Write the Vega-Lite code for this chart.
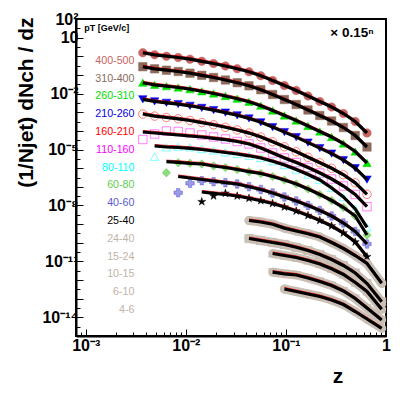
{
"$schema": "https://vega.github.io/schema/vega-lite/v6.json",
"width": 310, "height": 317,
"autosize": {"type": "none"},
"padding": {"left": 76, "top": 19, "right": 15, "bottom": 58},
"config": {"font": "Liberation Sans", "view": {"stroke": "black", "strokeWidth": 2}},
"data": {"values": [
{"s":"400-500","z":0.003719,"v":1.558,"f":1.558},
{"s":"400-500","z":0.00488,"v":1.202,"f":1.202},
{"s":"400-500","z":0.006402,"v":1.012,"f":1.012},
{"s":"400-500","z":0.008395,"v":0.8615,"f":0.8615},
{"s":"400-500","z":0.011013,"v":0.6985,"f":0.6985},
{"s":"400-500","z":0.014445,"v":0.5389,"f":0.5389},
{"s":"400-500","z":0.01895,"v":0.4109,"f":0.4109},
{"s":"400-500","z":0.024869,"v":0.3016,"f":0.3016},
{"s":"400-500","z":0.032618,"v":0.2161,"f":0.2161},
{"s":"400-500","z":0.042796,"v":0.1474,"f":0.1474},
{"s":"400-500","z":0.056143,"v":0.09106,"f":0.09106},
{"s":"400-500","z":0.073638,"v":0.05033,"f":0.05033},
{"s":"400-500","z":0.096605,"v":0.02715,"f":0.02715},
{"s":"400-500","z":0.12672,"v":0.01464,"f":0.01464},
{"s":"400-500","z":0.16624,"v":0.007425,"f":0.007425},
{"s":"400-500","z":0.21807,"v":0.003764,"f":0.003764},
{"s":"400-500","z":0.28609,"v":0.001909,"f":0.001909},
{"s":"400-500","z":0.37531,"v":0.0008553,"f":0.0008553},
{"s":"400-500","z":0.49229,"v":0.0003184,"f":0.0003184},
{"s":"400-500","z":0.6458,"v":0.000077,"f":0.000077},
{"s":"310-400","z":0.003719,"v":0.2765,"f":0.2765},
{"s":"310-400","z":0.00488,"v":0.2134,"f":0.2134},
{"s":"310-400","z":0.006402,"v":0.1796,"f":0.1796},
{"s":"310-400","z":0.008395,"v":0.1529,"f":0.1529},
{"s":"310-400","z":0.011013,"v":0.124,"f":0.124},
{"s":"310-400","z":0.014445,"v":0.09566,"f":0.09566},
{"s":"310-400","z":0.01895,"v":0.07293,"f":0.07293},
{"s":"310-400","z":0.024869,"v":0.05353,"f":0.05353},
{"s":"310-400","z":0.032618,"v":0.03836,"f":0.03836},
{"s":"310-400","z":0.042796,"v":0.02616,"f":0.02616},
{"s":"310-400","z":0.056143,"v":0.01616,"f":0.01616},
{"s":"310-400","z":0.073638,"v":0.008934,"f":0.008934},
{"s":"310-400","z":0.096605,"v":0.004819,"f":0.004819},
{"s":"310-400","z":0.12672,"v":0.002599,"f":0.002599},
{"s":"310-400","z":0.16624,"v":0.001318,"f":0.001318},
{"s":"310-400","z":0.21807,"v":0.0006681,"f":0.0006681},
{"s":"310-400","z":0.28609,"v":0.0003388,"f":0.0003388},
{"s":"310-400","z":0.37531,"v":0.0001518,"f":0.0001518},
{"s":"310-400","z":0.49229,"v":0.00005652,"f":0.00005652},
{"s":"310-400","z":0.6458,"v":0.00001367,"f":0.00001367},
{"s":"260-310","z":0.003719,"v":0.03836,"f":0.03836},
{"s":"260-310","z":0.00488,"v":0.02959,"f":0.02959},
{"s":"260-310","z":0.006402,"v":0.02492,"f":0.02492},
{"s":"260-310","z":0.008395,"v":0.02121,"f":0.02121},
{"s":"260-310","z":0.011013,"v":0.0172,"f":0.0172},
{"s":"260-310","z":0.014445,"v":0.01327,"f":0.01327},
{"s":"260-310","z":0.01895,"v":0.01012,"f":0.01012},
{"s":"260-310","z":0.024869,"v":0.007426,"f":0.007426},
{"s":"260-310","z":0.032618,"v":0.005321,"f":0.005321},
{"s":"260-310","z":0.042796,"v":0.003629,"f":0.003629},
{"s":"260-310","z":0.056143,"v":0.002242,"f":0.002242},
{"s":"260-310","z":0.073638,"v":0.001239,"f":0.001239},
{"s":"260-310","z":0.096605,"v":0.0006685,"f":0.0006685},
{"s":"260-310","z":0.12672,"v":0.0003605,"f":0.0003605},
{"s":"260-310","z":0.16624,"v":0.0001828,"f":0.0001828},
{"s":"260-310","z":0.21807,"v":0.00009267,"f":0.00009267},
{"s":"260-310","z":0.28609,"v":0.000047,"f":0.000047},
{"s":"260-310","z":0.37531,"v":0.00002106,"f":0.00002106},
{"s":"260-310","z":0.49229,"v":0.000007839,"f":0.000007839},
{"s":"260-310","z":0.6458,"v":0.000001896,"f":0.000001896},
{"s":"210-260","z":0.003719,"v":0.004938,"f":0.004938},
{"s":"210-260","z":0.00488,"v":0.00381,"f":0.00381},
{"s":"210-260","z":0.006402,"v":0.003208,"f":0.003208},
{"s":"210-260","z":0.008395,"v":0.002731,"f":0.002731},
{"s":"210-260","z":0.011013,"v":0.002214,"f":0.002214},
{"s":"210-260","z":0.014445,"v":0.001708,"f":0.001708},
{"s":"210-260","z":0.01895,"v":0.001302,"f":0.001302},
{"s":"210-260","z":0.024869,"v":0.000956,"f":0.000956},
{"s":"210-260","z":0.032618,"v":0.000685,"f":0.000685},
{"s":"210-260","z":0.042796,"v":0.0004672,"f":0.0004672},
{"s":"210-260","z":0.056143,"v":0.0002886,"f":0.0002886},
{"s":"210-260","z":0.073638,"v":0.0001595,"f":0.0001595},
{"s":"210-260","z":0.096605,"v":0.00008605,"f":0.00008605},
{"s":"210-260","z":0.12672,"v":0.0000464,"f":0.0000464},
{"s":"210-260","z":0.16624,"v":0.00002353,"f":0.00002353},
{"s":"210-260","z":0.21807,"v":0.00001193,"f":0.00001193},
{"s":"210-260","z":0.28609,"v":0.000006051,"f":0.000006051},
{"s":"210-260","z":0.37531,"v":0.000002711,"f":0.000002711},
{"s":"210-260","z":0.49229,"v":0.000001009,"f":0.000001009},
{"s":"210-260","z":0.6458,"v":2.441e-7,"f":2.441e-7},
{"s":"160-210","z":0.003719,"v":0.0008041,"f":0.0008041},
{"s":"160-210","z":0.00488,"v":0.0006203,"f":0.0006203},
{"s":"160-210","z":0.006402,"v":0.0005223,"f":0.0005223},
{"s":"160-210","z":0.008395,"v":0.0004446,"f":0.0004446},
{"s":"160-210","z":0.011013,"v":0.0003605,"f":0.0003605},
{"s":"160-210","z":0.014445,"v":0.0002781,"f":0.0002781},
{"s":"160-210","z":0.01895,"v":0.0002121,"f":0.0002121},
{"s":"160-210","z":0.024869,"v":0.0001557,"f":0.0001557},
{"s":"160-210","z":0.032618,"v":0.0001115,"f":0.0001115},
{"s":"160-210","z":0.042796,"v":0.00007607,"f":0.00007607},
{"s":"160-210","z":0.056143,"v":0.000047,"f":0.000047},
{"s":"160-210","z":0.073638,"v":0.00002597,"f":0.00002597},
{"s":"160-210","z":0.096605,"v":0.00001401,"f":0.00001401},
{"s":"160-210","z":0.12672,"v":0.000007556,"f":0.000007556},
{"s":"160-210","z":0.16624,"v":0.000003832,"f":0.000003832},
{"s":"160-210","z":0.21807,"v":0.000001943,"f":0.000001943},
{"s":"160-210","z":0.28609,"v":9.852e-7,"f":9.852e-7},
{"s":"160-210","z":0.37531,"v":4.414e-7,"f":4.414e-7},
{"s":"160-210","z":0.49229,"v":1.643e-7,"f":1.643e-7},
{"s":"160-210","z":0.6458,"v":3.974e-8,"f":3.974e-8},
{"s":"110-160","z":0.003719,"v":3.450e-5,"f":8.710e-5},
{"s":"110-160","z":0.00488,"v":6.805e-5,"f":7.698e-5},
{"s":"110-160","z":0.006402,"v":9.856e-5,"f":6.805e-5},
{"s":"110-160","z":0.008395,"v":9.264e-5,"f":6.016e-5},
{"s":"110-160","z":0.011013,"v":7.698e-5,"f":5.315e-5},
{"s":"110-160","z":0.014445,"v":6.016e-5,"f":4.698e-5},
{"s":"110-160","z":0.01895,"v":4.698e-5,"f":4.001e-5},
{"s":"110-160","z":0.024869,"v":3.670e-5,"f":3.366e-5},
{"s":"110-160","z":0.032618,"v":2.696e-5,"f":2.696e-5},
{"s":"110-160","z":0.042796,"v":1.979e-5,"f":1.979e-5},
{"s":"110-160","z":0.056143,"v":1.208e-5,"f":1.208e-5},
{"s":"110-160","z":0.073638,"v":6.513e-6,"f":6.513e-6},
{"s":"110-160","z":0.096605,"v":3.513e-6,"f":3.513e-6},
{"s":"110-160","z":0.12672,"v":2.016e-6,"f":2.016e-6},
{"s":"110-160","z":0.16624,"v":1.087e-6,"f":1.087e-6},
{"s":"110-160","z":0.21807,"v":5.512e-7,"f":5.512e-7},
{"s":"110-160","z":0.28609,"v":2.628e-7,"f":2.628e-7},
{"s":"110-160","z":0.37531,"v":1.107e-7,"f":1.107e-7},
{"s":"110-160","z":0.49229,"v":3.876e-8,"f":3.876e-8},
{"s":"110-160","z":0.6458,"v":8.590e-9,"f":8.590e-9},
{"s":"80-110","z":0.00488,"v":4.125e-6,"f":1.546e-5},
{"s":"80-110","z":0.006402,"v":1.317e-5,"f":1.366e-5},
{"s":"80-110","z":0.008395,"v":1.401e-5,"f":1.285e-5},
{"s":"80-110","z":0.011013,"v":1.317e-5,"f":1.164e-5},
{"s":"80-110","z":0.014445,"v":1.067e-5,"f":1.003e-5},
{"s":"80-110","z":0.01895,"v":8.868e-6,"f":8.340e-6},
{"s":"80-110","z":0.024869,"v":7.102e-6,"f":6.928e-6},
{"s":"80-110","z":0.032618,"v":5.758e-6,"f":5.758e-6},
{"s":"80-110","z":0.042796,"v":4.610e-6,"f":4.610e-6},
{"s":"80-110","z":0.056143,"v":3.513e-6,"f":3.513e-6},
{"s":"80-110","z":0.073638,"v":2.337e-6,"f":2.337e-6},
{"s":"80-110","z":0.096605,"v":1.480e-6,"f":1.480e-6},
{"s":"80-110","z":0.12672,"v":8.492e-7,"f":8.492e-7},
{"s":"80-110","z":0.16624,"v":4.579e-7,"f":4.579e-7},
{"s":"80-110","z":0.21807,"v":2.322e-7,"f":2.322e-7},
{"s":"80-110","z":0.28609,"v":8.648e-8,"f":8.648e-8},
{"s":"80-110","z":0.37531,"v":2.846e-8,"f":2.846e-8},
{"s":"80-110","z":0.49229,"v":6.466e-9,"f":6.466e-9},
{"s":"80-110","z":0.6458,"v":6.751e-10,"f":6.751e-10},
{"s":"60-80","z":0.006402,"v":5.721e-7,"f":2.225e-6},
{"s":"60-80","z":0.008395,"v":1.967e-6,"f":2.066e-6},
{"s":"60-80","z":0.011013,"v":1.826e-6,"f":1.826e-6},
{"s":"60-80","z":0.014445,"v":1.674e-6,"f":1.674e-6},
{"s":"60-80","z":0.01895,"v":1.308e-6,"f":1.308e-6},
{"s":"60-80","z":0.024869,"v":1.087e-6,"f":1.087e-6},
{"s":"60-80","z":0.032618,"v":8.492e-7,"f":8.492e-7},
{"s":"60-80","z":0.042796,"v":6.471e-7,"f":6.471e-7},
{"s":"60-80","z":0.056143,"v":5.182e-7,"f":5.182e-7},
{"s":"60-80","z":0.073638,"v":3.578e-7,"f":3.578e-7},
{"s":"60-80","z":0.096605,"v":2.322e-7,"f":2.322e-7},
{"s":"60-80","z":0.12672,"v":1.417e-7,"f":1.417e-7},
{"s":"60-80","z":0.16624,"v":7.642e-8,"f":7.642e-8},
{"s":"60-80","z":0.21807,"v":3.876e-8,"f":3.876e-8},
{"s":"60-80","z":0.28609,"v":1.847e-8,"f":1.847e-8},
{"s":"60-80","z":0.37531,"v":7.782e-9,"f":7.782e-9},
{"s":"60-80","z":0.49229,"v":2.725e-9,"f":2.725e-9},
{"s":"60-80","z":0.6458,"v":2.609e-10,"f":2.609e-10},
{"s":"40-60","z":0.008395,"v":4.839e-8,"f":3.578e-7},
{"s":"40-60","z":0.011013,"v":1.545e-7,"f":2.972e-7},
{"s":"40-60","z":0.014445,"v":2.130e-7,"f":2.470e-7},
{"s":"40-60","z":0.01895,"v":1.882e-7,"f":2.053e-7},
{"s":"40-60","z":0.024869,"v":1.664e-7,"f":1.664e-7},
{"s":"40-60","z":0.032618,"v":1.417e-7,"f":1.417e-7},
{"s":"40-60","z":0.042796,"v":1.015e-7,"f":1.015e-7},
{"s":"40-60","z":0.056143,"v":7.184e-8,"f":7.184e-8},
{"s":"40-60","z":0.073638,"v":4.663e-8,"f":4.663e-8},
{"s":"40-60","z":0.096605,"v":2.846e-8,"f":2.846e-8},
{"s":"40-60","z":0.12672,"v":1.737e-8,"f":1.737e-8},
{"s":"40-60","z":0.16624,"v":9.963e-9,"f":9.963e-9},
{"s":"40-60","z":0.21807,"v":5.373e-9,"f":5.373e-9},
{"s":"40-60","z":0.28609,"v":2.725e-9,"f":2.725e-9},
{"s":"40-60","z":0.37531,"v":1.148e-9,"f":1.148e-9},
{"s":"40-60","z":0.49229,"v":4.018e-10,"f":4.018e-10},
{"s":"40-60","z":0.6458,"v":8.584e-11,"f":8.584e-11},
{"s":"25-40","z":0.014445,"v":1.593e-8,"f":5.277e-8},
{"s":"25-40","z":0.01895,"v":3.219e-8,"f":4.493e-8},
{"s":"25-40","z":0.024869,"v":4.493e-8,"f":3.876e-8},
{"s":"25-40","z":0.032618,"v":3.219e-8,"f":3.219e-8},
{"s":"25-40","z":0.042796,"v":2.424e-8,"f":2.424e-8},
{"s":"25-40","z":0.056143,"v":1.803e-8,"f":1.803e-8},
{"s":"25-40","z":0.073638,"v":1.275e-8,"f":1.275e-8},
{"s":"25-40","z":0.096605,"v":8.279e-9,"f":8.279e-9},
{"s":"25-40","z":0.12672,"v":5.050e-9,"f":5.050e-9},
{"s":"25-40","z":0.16624,"v":2.898e-9,"f":2.898e-9},
{"s":"25-40","z":0.21807,"v":1.563e-9,"f":1.563e-9},
{"s":"25-40","z":0.28609,"v":7.925e-10,"f":7.925e-10},
{"s":"25-40","z":0.37531,"v":3.339e-10,"f":3.339e-10},
{"s":"25-40","z":0.49229,"v":1.099e-10,"f":1.099e-10},
{"s":"25-40","z":0.6458,"v":1.789e-11,"f":1.789e-11},
{"s":"24-40","z":0.042796,"v":1.563e-9,"f":1.563e-9},
{"s":"24-40","z":0.056143,"v":1.299e-9,"f":1.299e-9},
{"s":"24-40","z":0.073638,"v":9.897e-10,"f":9.897e-10},
{"s":"24-40","z":0.096605,"v":6.116e-10,"f":6.116e-10},
{"s":"24-40","z":0.12672,"v":4.275e-10,"f":4.275e-10},
{"s":"24-40","z":0.16624,"v":3.063e-10,"f":3.063e-10},
{"s":"24-40","z":0.21807,"v":2.038e-10,"f":2.038e-10},
{"s":"24-40","z":0.28609,"v":1.033e-10,"f":1.033e-10},
{"s":"24-40","z":0.37531,"v":4.925e-11,"f":4.925e-11},
{"s":"24-40","z":0.49229,"v":2.075e-11,"f":2.075e-11},
{"s":"24-40","z":0.6458,"v":7.727e-12,"f":7.727e-12},
{"s":"24-40","z":0.9057,"v":6.701e-13,"f":6.701e-13},
{"s":"15-24","z":0.042796,"v":1.693e-10,"f":1.693e-10},
{"s":"15-24","z":0.056143,"v":1.323e-10,"f":1.323e-10},
{"s":"15-24","z":0.073638,"v":1.033e-10,"f":1.033e-10},
{"s":"15-24","z":0.096605,"v":8.071e-11,"f":8.071e-11},
{"s":"15-24","z":0.12672,"v":5.711e-11,"f":5.711e-11},
{"s":"15-24","z":0.16624,"v":3.847e-11,"f":3.847e-11},
{"s":"15-24","z":0.21807,"v":2.348e-11,"f":2.348e-11},
{"s":"15-24","z":0.28609,"v":1.266e-11,"f":1.266e-11},
{"s":"15-24","z":0.37531,"v":6.037e-12,"f":6.037e-12},
{"s":"15-24","z":0.49229,"v":2.390e-12,"f":2.390e-12},
{"s":"15-24","z":0.6458,"v":6.537e-13,"f":6.537e-13},
{"s":"15-24","z":0.9057,"v":6.907e-14,"f":6.907e-14},
{"s":"10-15","z":0.073638,"v":2.656e-11,"f":2.656e-11},
{"s":"10-15","z":0.096605,"v":2.075e-11,"f":2.075e-11},
{"s":"10-15","z":0.12672,"v":1.621e-11,"f":1.621e-11},
{"s":"10-15","z":0.16624,"v":1.119e-11,"f":1.119e-11},
{"s":"10-15","z":0.21807,"v":7.263e-12,"f":7.263e-12},
{"s":"10-15","z":0.28609,"v":4.015e-12,"f":4.015e-12},
{"s":"10-15","z":0.37531,"v":1.986e-12,"f":1.986e-12},
{"s":"10-15","z":0.49229,"v":7.396e-13,"f":7.396e-13},
{"s":"10-15","z":0.6458,"v":2.434e-13,"f":2.434e-13},
{"s":"10-15","z":0.9057,"v":2.703e-14,"f":2.703e-14},
{"s":"6-10","z":0.073638,"v":2.639e-12,"f":2.639e-12},
{"s":"6-10","z":0.096605,"v":2.165e-12,"f":2.165e-12},
{"s":"6-10","z":0.12672,"v":1.867e-12,"f":1.867e-12},
{"s":"6-10","z":0.16624,"v":1.289e-12,"f":1.289e-12},
{"s":"6-10","z":0.21807,"v":8.368e-13,"f":8.368e-13},
{"s":"6-10","z":0.28609,"v":5.106e-13,"f":5.106e-13},
{"s":"6-10","z":0.37531,"v":2.589e-13,"f":2.589e-13},
{"s":"6-10","z":0.49229,"v":1.026e-13,"f":1.026e-13},
{"s":"6-10","z":0.6458,"v":3.173e-14,"f":3.173e-14},
{"s":"6-10","z":0.9057,"v":7.211e-15,"f":7.211e-15},
{"s":"4-6","z":0.096605,"v":3.314e-13,"f":3.314e-13},
{"s":"4-6","z":0.12672,"v":2.434e-13,"f":2.434e-13},
{"s":"4-6","z":0.16624,"v":1.788e-13,"f":1.788e-13},
{"s":"4-6","z":0.21807,"v":1.313e-13,"f":1.313e-13},
{"s":"4-6","z":0.28609,"v":8.520e-14,"f":8.520e-14},
{"s":"4-6","z":0.37531,"v":4.889e-14,"f":4.889e-14},
{"s":"4-6","z":0.49229,"v":2.060e-14,"f":2.060e-14},
{"s":"4-6","z":0.6458,"v":8.156e-15,"f":8.156e-15},
{"s":"4-6","z":0.9057,"v":2.587e-15,"f":2.587e-15}
]},
"resolve": {"axis": {"x": "independent", "y": "independent"}},
"layer": [
{
 "transform": [{"filter": {"field": "s", "oneOf": ["24-40","15-24","10-15","6-10","4-6"]}}],
 "mark": {"type": "line", "stroke": "#cbc1b7", "strokeWidth": 9, "strokeCap": "round", "strokeJoin": "round"},
 "encoding": {
  "x": {"field": "z", "type": "quantitative", "scale": {"type": "log", "domain": [0.0008, 1.0], "nice": false}, "axis": null},
  "y": {"field": "f", "type": "quantitative", "scale": {"type": "log", "domain": [1e-15, 100], "nice": false}, "axis": null},
  "detail": {"field": "s", "type": "nominal"}
 }
},
{
 "mark": {"type": "point", "opacity": 1},
 "encoding": {
  "x": {"field": "z", "type": "quantitative", "scale": {"type": "log", "domain": [0.0008, 1.0], "nice": false},
   "axis": {"orient": "bottom", "values": [0.001, 0.01, 0.1, 1],
    "labelExpr": "datum.value==0.001?'10⁻³':datum.value==0.01?'10⁻²':datum.value==0.1?'10⁻¹':datum.value==1?'1':''",
    "tickSize": -7, "tickColor": "black", "tickWidth": 1, "domainColor": "black", "domainWidth": 2, "grid": false,
    "labelFont": "Liberation Sans", "labelFontWeight": "bold", "labelFontSize": 16, "labelColor": "black",
    "labelPadding": 8, "labelBaseline": "top", "labelFlush": false, "labelOverlap": false,
    "title": "z", "titleFont": "Liberation Sans", "titleFontSize": 21, "titleFontWeight": "bold", "titleColor": "black",
    "titleX": 261.5, "titleY": 46, "titleAlign": "center", "titleBaseline": "alphabetic"}},
  "y": {"field": "v", "type": "quantitative", "scale": {"type": "log", "domain": [1e-15, 100], "nice": false},
   "axis": {"orient": "left", "values": [100, 10, 1, 0.1, 0.01, 0.001, 1e-4, 1e-5, 1e-6, 1e-7, 1e-8, 1e-9, 1e-10, 1e-11, 1e-12, 1e-13, 1e-14],
    "labelExpr": "datum.value==100?'10²':datum.value==10?'10':datum.value==0.01?'10⁻²':datum.value==1e-5?'10⁻⁵':datum.value==1e-8?'10⁻⁸':datum.value==1e-11?'10⁻¹¹':datum.value==1e-14?'10⁻¹⁴':''",
    "tickSize": -7, "tickColor": "black", "tickWidth": 1, "domainColor": "black", "domainWidth": 2, "grid": false,
    "labelFont": "Liberation Sans", "labelFontWeight": "bold", "labelFontSize": 16, "labelColor": "black",
    "labelPadding": 5, "labelBaseline": "middle", "labelAlign": "right", "labelFlush": false, "labelOverlap": false,
    "title": "(1/Njet) dNch / dz", "titleFont": "Liberation Sans", "titleFontSize": 21, "titleFontWeight": "bold", "titleColor": "black",
    "titleX": -44, "titleY": -2, "titleAngle": -90, "titleAlign": "right", "titleBaseline": "alphabetic"}},
  "shape": {"field": "s", "type": "nominal",
   "scale": {"domain": ["400-500","310-400","260-310","210-260","160-210","110-160","80-110","60-80","40-60","25-40","24-40","15-24","10-15","6-10","4-6"],
    "range": ["circle","square","triangle-up","triangle-down","circle","square","triangle-up","diamond","cross","M0,-1L0.2245,-0.309L0.9511,-0.309L0.3633,0.118L0.5878,0.809L0,0.382L-0.5878,0.809L-0.3633,0.118L-0.9511,-0.309L-0.2245,-0.309Z","circle","square","triangle-up","triangle-down","circle"]}},
  "size": {"field": "s", "type": "nominal",
   "scale": {"domain": ["400-500","310-400","260-310","210-260","160-210","110-160","80-110","60-80","40-60","25-40","24-40","15-24","10-15","6-10","4-6"],
    "range": [72, 70, 75, 75, 62, 62, 70, 66, 80, 130, 75, 70, 75, 75, 62]}},
  "strokeWidth": {"field": "s", "type": "nominal",
   "scale": {"domain": ["400-500","310-400","260-310","210-260","160-210","110-160","80-110","60-80","40-60","25-40","24-40","15-24","10-15","6-10","4-6"],
    "range": [0.5, 0.5, 0.5, 0.5, 2, 2, 1.8, 1.2, 1.5, 0.5, 0.5, 0.5, 0.5, 0.5, 1.6]}},
  "fill": {"field": "s", "type": "nominal",
   "scale": {"domain": ["400-500","310-400","260-310","210-260","160-210","110-160","80-110","60-80","40-60","25-40","24-40","15-24","10-15","6-10","4-6"],
    "range": ["#c86464","#8c6a5a","#00e000","#0000e6","transparent","transparent","transparent","#8fdc80","#9a9ae6","#000000","#cbc1b7","#cbc1b7","#cbc1b7","#cbc1b7","transparent"]},
   "legend": {"orient": "none", "legendX": 8.3, "legendY": 4.5, "padding": 0,
    "title": "pT [GeV/c]", "titleFont": "Liberation Sans", "titleFontSize": 9, "titleFontWeight": "bold", "titleColor": "black",
    "titlePadding": 23, "titleAnchor": "start", "titleBaseline": "top",
    "labelFont": "Liberation Sans", "labelFontSize": 10.7, "labelAlign": "right", "labelOffset": 39.5,
    "symbolSize": 0, "symbolStrokeWidth": 0, "symbolOpacity": 0, "rowPadding": 5.8,
    "encode": {"labels": {"update": {"fill": {"scale": "stroke", "field": "value"}}}}}},
  "stroke": {"field": "s", "type": "nominal",
   "scale": {"domain": ["400-500","310-400","260-310","210-260","160-210","110-160","80-110","60-80","40-60","25-40","24-40","15-24","10-15","6-10","4-6"],
    "range": ["#c86464","#8c6a5a","#00e000","#0000e6","#ff0000","#ff00ff","#00ffff","#5fcd4f","#5a5ad2","#000000","#c0b4a8","#c0b4a8","#c0b4a8","#c0b4a8","#c0b4a8"]},
   "legend": {"orient": "none", "legendX": 8.3, "legendY": 4.5, "padding": 0,
    "title": "pT [GeV/c]", "titleFont": "Liberation Sans", "titleFontSize": 9, "titleFontWeight": "bold", "titleColor": "black",
    "titlePadding": 23, "titleAnchor": "start", "titleBaseline": "top",
    "labelFont": "Liberation Sans", "labelFontSize": 10.7, "labelAlign": "right", "labelOffset": 39.5,
    "symbolSize": 0, "symbolStrokeWidth": 0, "symbolOpacity": 0, "rowPadding": 5.8,
    "encode": {"labels": {"update": {"fill": {"scale": "stroke", "field": "value"}}}}}}
 }
},
{
 "mark": {"type": "line", "stroke": "#ff0000", "strokeWidth": 0.8, "yOffset": -1.6},
 "encoding": {
  "x": {"field": "z", "type": "quantitative", "scale": {"type": "log", "domain": [0.0008, 1.0], "nice": false}, "axis": null},
  "y": {"field": "f", "type": "quantitative", "scale": {"type": "log", "domain": [1e-15, 100], "nice": false},
   "axis": {"orient": "left", "values": [31.62, 3.162, 0.3162, 0.03162, 0.003162, 3.162e-4, 3.162e-5, 3.162e-6, 3.162e-7, 3.162e-8, 3.162e-9, 3.162e-10, 3.162e-11, 3.162e-12, 3.162e-13, 3.162e-14, 3.162e-15],
    "labels": false, "domain": false, "grid": false, "title": null, "tickSize": -4, "tickColor": "black", "tickWidth": 1}},
  "detail": {"field": "s", "type": "nominal"}
 }
},
{
 "mark": {"type": "line", "stroke": "#000000", "strokeWidth": 3.2},
 "encoding": {
  "x": {"field": "z", "type": "quantitative", "scale": {"type": "log", "domain": [0.0008, 1.0], "nice": false},
   "axis": {"orient": "bottom", "values": [0.0008, 0.0009, 0.002, 0.003, 0.004, 0.005, 0.006, 0.007, 0.008, 0.009, 0.02, 0.03, 0.04, 0.05, 0.06, 0.07, 0.08, 0.09, 0.2, 0.3, 0.4, 0.5, 0.6, 0.7, 0.8, 0.9],
    "labels": false, "domain": false, "grid": false, "title": null, "tickSize": -4, "tickColor": "black", "tickWidth": 1}},
  "y": {"field": "f", "type": "quantitative", "scale": {"type": "log", "domain": [1e-15, 100], "nice": false}, "axis": null},
  "detail": {"field": "s", "type": "nominal"}
 }
},
{
 "data": {"values": [{"t": "× 0.15ⁿ"}]},
 "mark": {"type": "text", "align": "right", "baseline": "alphabetic", "font": "Liberation Sans", "fontSize": 13.5, "fontWeight": "bold", "color": "black"},
 "encoding": {
  "x": {"datum": 0.752, "type": "quantitative", "scale": {"type": "log", "domain": [0.0008, 1.0], "nice": false}, "axis": null},
  "y": {"datum": 10.83, "type": "quantitative", "scale": {"type": "log", "domain": [1e-15, 100], "nice": false}, "axis": null},
  "text": {"field": "t"}
 }
}
]
}
